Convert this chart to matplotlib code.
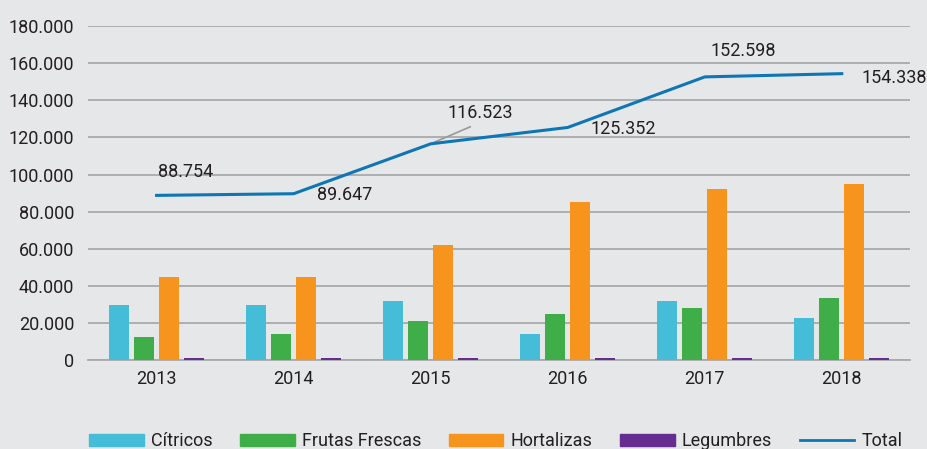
import matplotlib.pyplot as plt
import numpy as np
from matplotlib.ticker import FuncFormatter
from matplotlib.lines import Line2D
from matplotlib.patches import Patch

plt.rcParams['font.family'] = ['Roboto', 'DejaVu Sans']

years = ['2013', '2014', '2015', '2016', '2017', '2018']
citricos = [29500, 29500, 32000, 14000, 32000, 22500]
frutas = [12500, 14000, 21000, 25000, 28000, 33500]
hortalizas = [45000, 45000, 62000, 85000, 92000, 95000]
legumbres = [1000, 1000, 1000, 1000, 1000, 1000]
total = [88754, 89647, 116523, 125352, 152598, 154338]
total_labels = ['88.754', '89.647', '116.523', '125.352', '152.598', '154.338']

# label offsets in points
offsets = [(21, 17), (37, -1), (36, 22), (40, -1), (28, 19), (38, -3)]

bg = '#e6e7e8'
txt = '#231f20'
grid_c = '#a7a9ac'
colors = ['#45bcd8', '#3fae49', '#f7941d', '#662d91']
line_c = '#0e76b5'
fs = 13

fig = plt.figure(figsize=(9.27, 4.49), dpi=100, facecolor=bg)
ax = fig.add_axes([0.095, 0.198, 0.887, 0.744], facecolor=bg)

x = np.arange(len(years))
slot = 0.182
width = 0.145
series = [citricos, frutas, hortalizas, legumbres]
names = ['Cítricos', 'Frutas Frescas', 'Hortalizas', 'Legumbres']
for i, (vals, c) in enumerate(zip(series, colors)):
    ax.bar(x + (i - 1.5) * slot, vals, width, color=c, zorder=3)

ax.plot(x, total, color=line_c, lw=2.2, zorder=4)
for i, (v, lab, off) in enumerate(zip(total, total_labels, offsets)):
    if i == 2:
        ax.annotate(lab, (x[i], v), xytext=off, textcoords='offset points',
                    ha='center', va='center', fontsize=fs, color=txt,
                    arrowprops=dict(arrowstyle='-', color='#999999', lw=1.2,
                                    relpos=(0.5, 0), shrinkA=3, shrinkB=0))
    else:
        ax.annotate(lab, (x[i], v), xytext=off, textcoords='offset points',
                    ha='center', va='center', fontsize=fs, color=txt)

ax.set_xlim(-0.5, 5.5)
ax.set_ylim(0, 180000)
ax.set_yticks(np.arange(0, 180001, 20000))
ax.yaxis.set_major_formatter(FuncFormatter(lambda v, p: '0' if v == 0 else f'{int(v):,}'.replace(',', '.')))
ax.set_xticks(x)
ax.set_xticklabels(years)
ax.tick_params(axis='both', length=0, labelsize=fs, colors=txt)
ax.tick_params(axis='y', pad=10)
ax.tick_params(axis='x', pad=7)
ax.grid(axis='y', color=grid_c, lw=1.3, zorder=0)
for s in ['top', 'right', 'left']:
    ax.spines[s].set_visible(False)
ax.spines['bottom'].set_color(grid_c)
ax.spines['bottom'].set_linewidth(1.3)

handles = [Patch(color=c) for c in colors] + [Line2D([0], [0], color=line_c, lw=2)]
fig.legend(handles, names + ['Total'], loc='center', bbox_to_anchor=(0.535, 0.017),
           ncol=5, frameon=False, fontsize=fs, handlelength=3.0, handleheight=0.65,
           handletextpad=0.4, columnspacing=1.55, labelcolor=txt)

fig.savefig('out.png', dpi=100, facecolor=bg)
